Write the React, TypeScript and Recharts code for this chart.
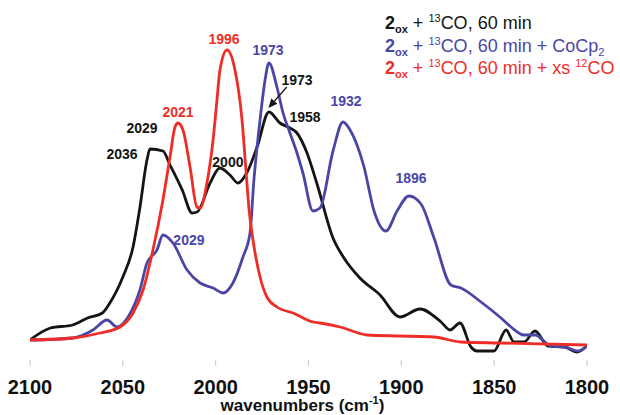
import React from "react";
import { LineChart, Line, XAxis, YAxis, ReferenceDot, ReferenceLine, Label } from "recharts";

const BLACK = "#151515";
const BLUE = "#4a46a6";
const RED = "#ee2d27";

// x axis ticks (cm-1), reversed like an IR spectrum
const wnTicks = [2100, 2050, 2000, 1950, 1900, 1850, 1800];

// 2ox + 13CO, 60 min
const blackWn = [2100, 2089, 2077, 2069, 2061, 2057, 2050, 2044.5, 2041, 2037, 2035.4, 2028.4, 2024.6, 2018, 2012.7, 2010, 2003, 1997.7, 1992.3, 1988, 1983, 1977.7, 1971.3, 1965.4, 1960, 1956.2, 1950.8, 1945.4, 1936.8, 1930.9, 1922.3, 1911.5, 1900.7, 1890, 1878.6, 1873.8, 1868.4, 1862.5, 1859.2, 1850.1, 1843.6, 1839.3, 1833.9, 1828, 1821, 1811.9, 1805.4, 1800];
const blackAbs = [20, 32, 35, 42, 47, 57, 83, 113, 150, 200, 211, 209, 195, 170, 147, 148, 177, 192, 185, 177, 188, 213, 248, 237, 232, 227, 207, 176, 122, 102, 82, 65, 43, 51, 38, 30, 37, 13, 9, 9, 30, 18, 18, 29, 14, 13, 8, 14];

// + CoCp2
const blueWn = [2100, 2076.8, 2066.1, 2058.5, 2053.1, 2047.2, 2040.8, 2037, 2031.6, 2028.4, 2023, 2015.4, 2008.4, 2001.4, 1996, 1990.7, 1985.3, 1981.5, 1979.4, 1976.1, 1973.4, 1971.3, 1967, 1963.7, 1960, 1956.2, 1953, 1947.6, 1943.8, 1936.8, 1931.4, 1927.6, 1920.1, 1914.7, 1908.3, 1902.3, 1895.9, 1889.4, 1882.4, 1873.3, 1867.9, 1857.1, 1846.3, 1840.9, 1833.9, 1828, 1819.4, 1811.9, 1804.9, 1800];
const blueAbs = [20, 22, 30, 40, 33, 43, 70, 97, 110, 125, 117, 90, 77, 72, 67, 77, 103, 127, 180, 240, 280, 297, 273, 247, 227, 207, 187, 149, 152, 209, 238, 230, 193, 149, 129, 149, 164, 156, 122, 75, 72, 58, 42, 33, 25, 25, 14, 13, 9, 14];

// + xs 12CO
const redWn = [2100, 2076.8, 2062.3, 2051.5, 2044.5, 2039.1, 2033.8, 2028.4, 2024.6, 2021.9, 2020.3, 2017.6, 2013.8, 2010.1, 2008.4, 2004.7, 2001.4, 1999.3, 1997.7, 1993.9, 1989.6, 1985.8, 1983.7, 1982, 1979.9, 1976.1, 1972.4, 1967, 1958.3, 1947.6, 1943.8, 1933, 1918.5, 1900.7, 1882.4, 1867.9, 1846.9, 1800];
const redAbs = [20, 22, 27, 33, 47, 70, 110, 160, 203, 233, 237, 230, 193, 153, 152, 177, 220, 260, 290, 310, 290, 240, 190, 150, 120, 83, 63, 53, 47, 38, 37, 33, 25, 24, 23, 18, 17, 15];

// peak labels, placed in data coordinates
const peakText = ["1996", "1973", "1973", "1958", "2000", "1932", "1896", "2021", "2029", "2036", "2029"];
const peakWn = [1995.5, 1971.8, 1956.2, 1951.9, 1993.4, 1929.8, 1894.8, 2020.3, 2039.7, 2050.4, 2014.4];
const peakAbs = [321, 310, 280, 243, 198, 259, 182, 248, 232, 206, 120];
const peakColor = [RED, BLUE, BLACK, BLACK, BLACK, BLUE, BLUE, RED, BLACK, BLACK, BLUE];

const zip = (wn: number[], abs: number[]) => wn.map((w, i) => ({ w, a: abs[i] }));
const blackData = zip(blackWn, blackAbs);
const blueData = zip(blueWn, blueAbs);
const redData = zip(redWn, redAbs);

const FONT = "'Liberation Sans', Arial, Helvetica, sans-serif";

function WnTick(props: any) {
  const { x, y, payload } = props;
  return (
    <text x={x} y={y + 26} textAnchor="middle" fontSize={20} fontWeight="bold" fill="#111" fontFamily={FONT}>
      {payload.value}
    </text>
  );
}

function AxisTitle(props: any) {
  const vb = props.viewBox;
  return (
    <text x={vb.x + vb.width / 2 - 6} y={vb.y + 51} textAnchor="middle" fontSize={17} fontWeight="bold" fill="#111" fontFamily={FONT}>
      wavenumbers (cm
      <tspan dy={-7} fontSize={11}>-1</tspan>
      <tspan dy={7}>)</tspan>
    </text>
  );
}

function Arrow(props: any) {
  const { x1, y1, x2, y2 } = props;
  const ang = Math.atan2(y2 - y1, x2 - x1);
  const len = 9;
  const hw = 4;
  const bx = x2 - len * Math.cos(ang);
  const by = y2 - len * Math.sin(ang);
  const px = -Math.sin(ang) * hw;
  const py = Math.cos(ang) * hw;
  return (
    <g>
      <line x1={x1} y1={y1} x2={bx} y2={by} stroke={BLACK} strokeWidth={1.3} />
      <polygon points={`${x2},${y2} ${bx + px},${by + py} ${bx - px},${by - py}`} fill={BLACK} />
    </g>
  );
}

function LegendText() {
  const line = (y: number, color: string, tail: React.ReactNode) => (
    <text x={385} y={y} fontSize={18} fill={color} fontFamily={FONT}>
      <tspan fontWeight="bold">2</tspan>
      <tspan fontWeight="bold" fontSize={11} dy={4}>ox</tspan>
      <tspan dy={-4}> + </tspan>
      <tspan fontSize={11} dy={-7}>13</tspan>
      <tspan dy={7}>CO, 60 min</tspan>
      {tail}
    </text>
  );
  return (
    <svg width={620} height={415} style={{ position: "absolute", left: 0, top: 0, pointerEvents: "none" }}>
      {line(29, BLACK, null)}
      {line(52, BLUE, (
        <>
          <tspan> + CoCp</tspan>
          <tspan fontSize={11} dy={4}>2</tspan>
        </>
      ))}
      {line(74, RED, (
        <>
          <tspan> + xs </tspan>
          <tspan fontSize={11} dy={-7}>12</tspan>
          <tspan dy={7}>CO</tspan>
        </>
      ))}
    </svg>
  );
}

export default function App() {
  return (
    <div style={{ position: "absolute", left: 0, top: 0, width: 620, height: 415, background: "#fff", fontFamily: FONT }}>
      <LineChart width={620} height={415} margin={{ top: 0, right: 33, bottom: 0, left: 30 }}>
        <XAxis
          type="number"
          dataKey="w"
          domain={[1800, 2100]}
          reversed
          ticks={wnTicks}
          axisLine={false}
          tickLine={{ stroke: "#c8c8c8" }}
          tickSize={6}
          tick={<WnTick />}
          height={55}
          allowDataOverflow
        >
          <Label content={<AxisTitle />} />
        </XAxis>
        <YAxis hide domain={[0, 360]} />
        <Line data={blackData} dataKey="a" type="monotone" stroke={BLACK} strokeWidth={2.8} dot={false} isAnimationActive={false} />
        <Line data={blueData} dataKey="a" type="monotone" stroke={BLUE} strokeWidth={2.8} dot={false} isAnimationActive={false} />
        <Line data={redData} dataKey="a" type="monotone" stroke={RED} strokeWidth={2.8} dot={false} isAnimationActive={false} />
        <ReferenceLine segment={[{ x: 1961.7, y: 273 }, { x: 1971.6, y: 252 }]} shape={<Arrow />} />
        {peakText.map((t, i) => (
          <ReferenceDot
            key={i}
            x={peakWn[i]}
            y={peakAbs[i]}
            r={0}
            shape={(p: any) => (
              <text x={p.cx} y={p.cy} textAnchor="middle" dominantBaseline="central" fontSize={14} fontWeight="bold" fill={peakColor[i]} fontFamily={FONT}>
                {t}
              </text>
            )}
          />
        ))}
      </LineChart>
      <LegendText />
    </div>
  );
}
